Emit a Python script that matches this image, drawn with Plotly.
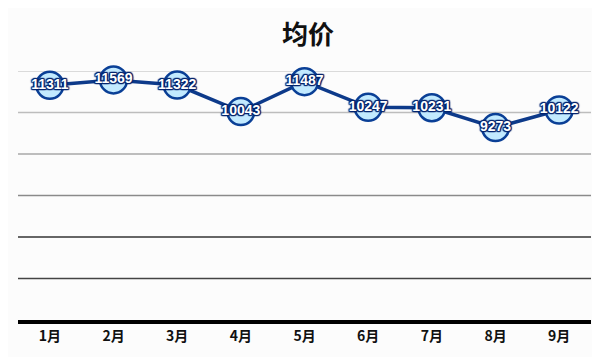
import plotly.graph_objects as go

months = ["1月", "2月", "3月", "4月", "5月", "6月", "7月", "8月", "9月"]
avg_price = [11311, 11569, 11322, 10043, 11487, 10247, 10231, 9273, 10122]
y_ticks = [2000, 4000, 6000, 8000, 10000, 12000]

grid_colors = ["#444444", "#666666", "#8a8a8a", "#a8a8a8", "#bdbdbd", "#cfcfcf"]
grid_widths = [1.5, 2, 1.5, 1.5, 1.5, 1.5]

outline = ", ".join(f"{dx}px {dy}px 1px #06266e" for dx, dy in
                    [(1, 0), (-1, 0), (0, 1), (0, -1), (1, 1), (-1, -1), (1, -1), (-1, 1)])

fig = go.Figure()
fig.add_trace(go.Scatter(
    x=months, y=avg_price, mode="lines+markers+text",
    line=dict(color="#0d3a8a", width=3.5),
    marker=dict(size=27, color="#c2eaff", line=dict(color="#0a3f96", width=2.5)),
    text=[str(v) for v in avg_price], textposition="middle center",
    textfont=dict(family="Liberation Sans, Arial", size=14, color="#ffffff",
                  weight="bold", shadow=outline),
    cliponaxis=False, showlegend=False,
))

shapes = []
for yv, c, w in zip(y_ticks, grid_colors, grid_widths):
    shapes.append(dict(type="line", xref="paper", x0=0.0, x1=1.0, yref="y", y0=yv, y1=yv,
                       line=dict(color=c, width=w), layer="below"))

fig.update_layout(
    width=600, height=357,
    margin=dict(l=10, r=17, t=63, b=45),
    paper_bgcolor="#fcfcfc", plot_bgcolor="#fcfcfc",
    title=dict(text="<b>均价</b>", x=0.5, xanchor="center", y=0.925, yanchor="middle",
               font=dict(family="Noto Sans CJK SC", size=26, color="#111111")),
    shapes=shapes,
    xaxis=dict(showgrid=False, showline=True, linecolor="#000000", linewidth=4,
               tickfont=dict(family="Noto Sans CJK SC", size=14, color="#111111",
                             weight="bold"),
               ticks="", range=[-0.5, 8.5]),
    yaxis=dict(range=[0, 12000], showgrid=False, showticklabels=False, zeroline=False,
               ticks=""),
)

fig.write_html("out.html")
